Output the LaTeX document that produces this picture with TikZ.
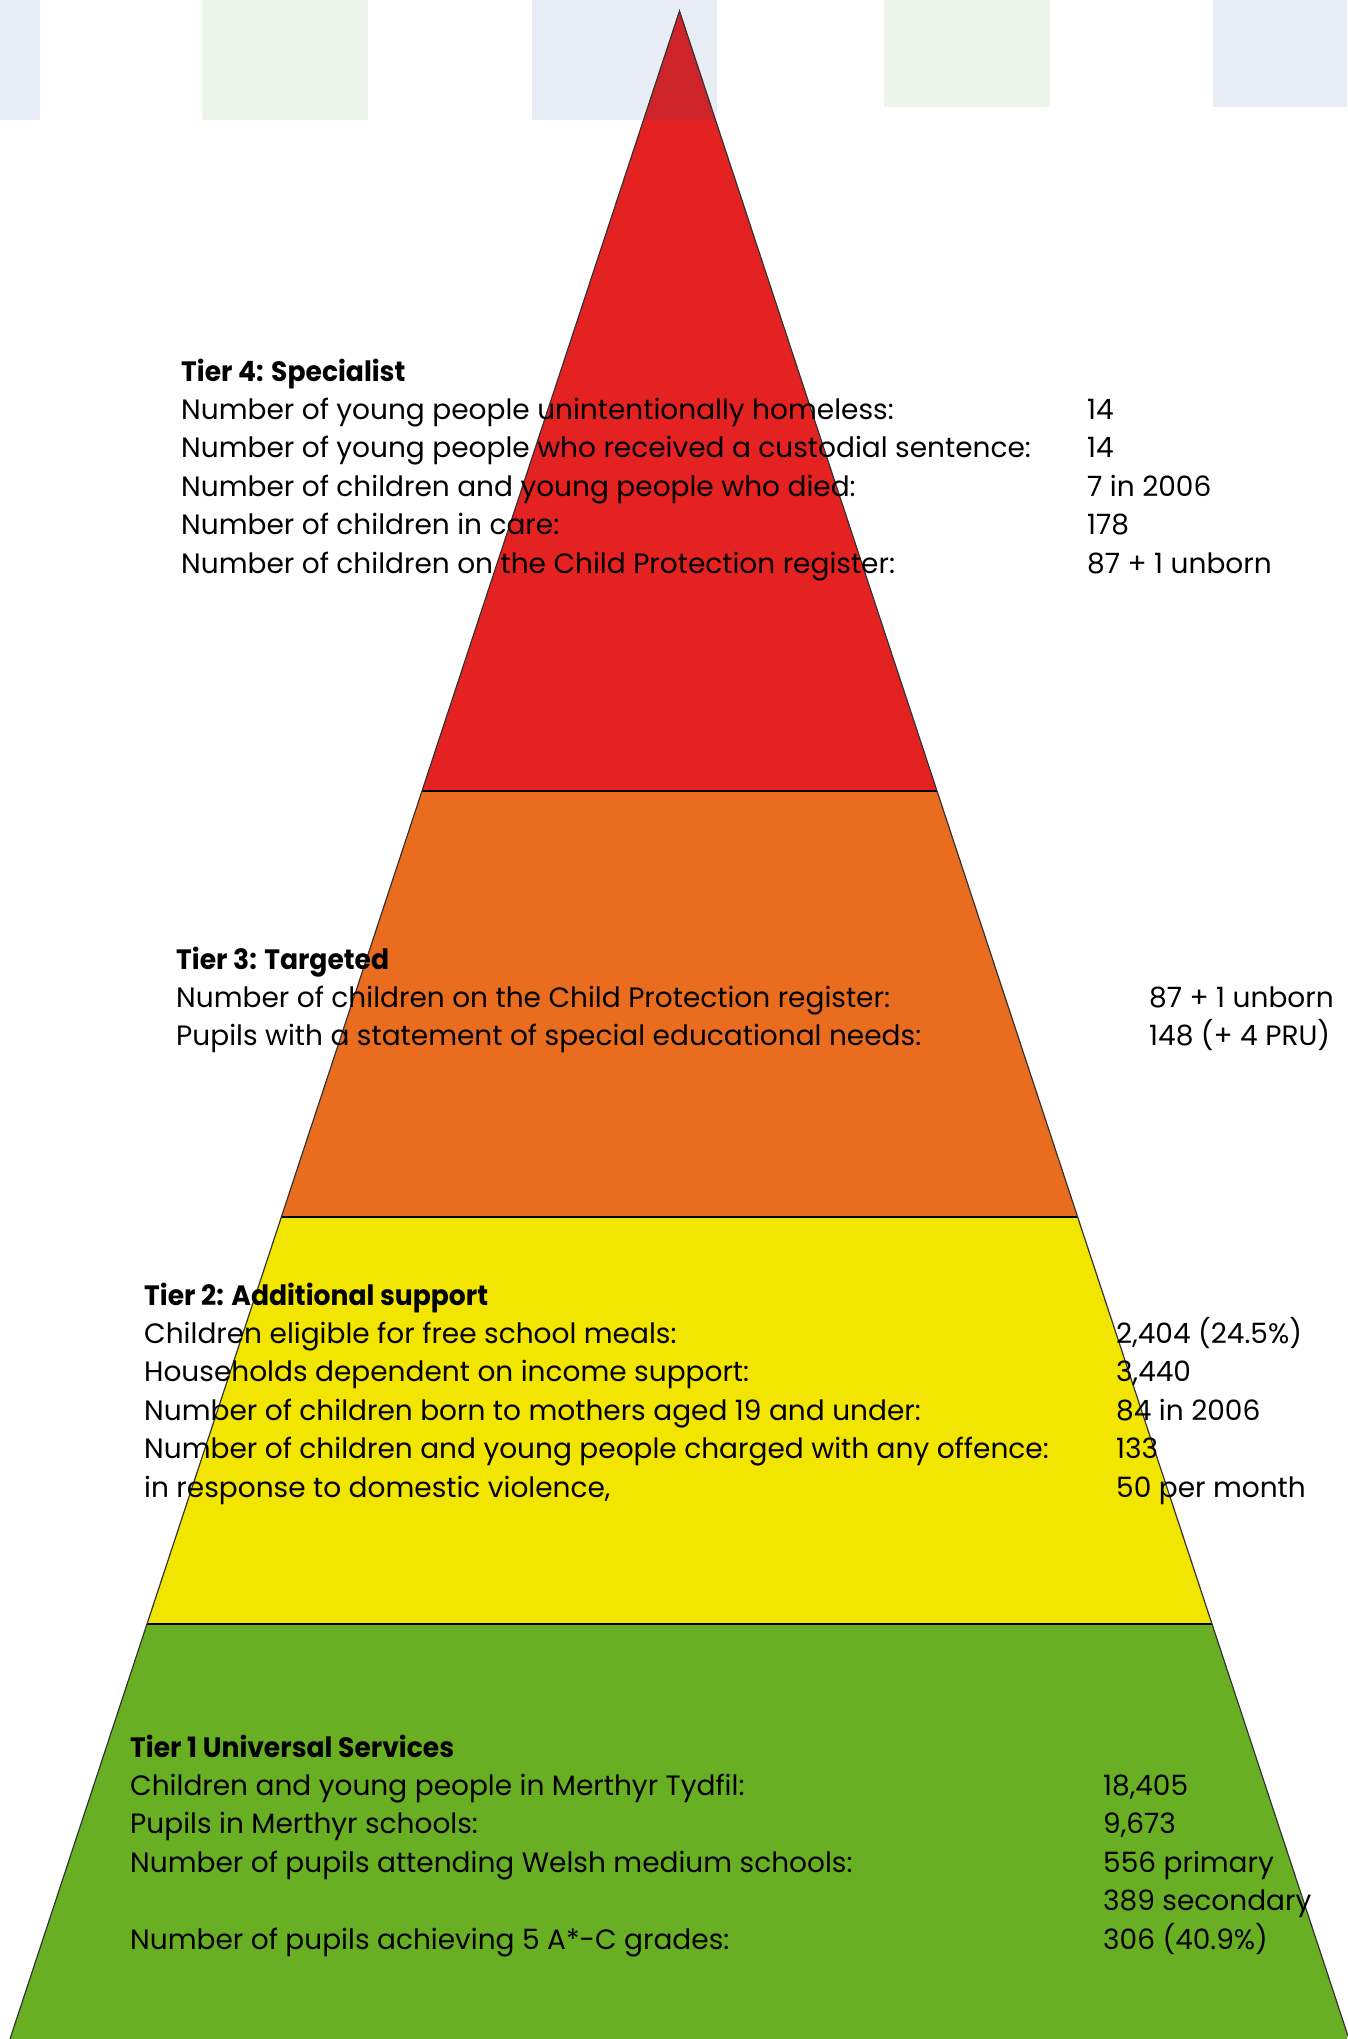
\documentclass[tikz,border=0pt]{standalone}
\usepackage{fontspec}
\setmainfont{Poppins}[BoldFeatures={FakeStretch=0.95}]

\definecolor{tierred}{HTML}{E32221}
\definecolor{tierdark}{HTML}{CC2429}
\definecolor{tierorange}{HTML}{E96C1F}
\definecolor{tieryellow}{HTML}{F2E500}
\definecolor{tiergreen}{HTML}{69AF24}
\definecolor{tileblue}{HTML}{E8EDF5}
\definecolor{tilegreen}{HTML}{EDF5EA}

\begin{document}
\begin{tikzpicture}[x=1pt, y=-1pt,
    tier/.style = {anchor=base west, inner sep=0pt, font=\fontsize{28}{38.4}\selectfont},
    band/.style = {draw=black, line width=2.5pt}]
\useasboundingbox (0,0) rectangle (1347,2039);
% tiles along the top
\fill[tileblue] (0,0) rectangle (40,120);
\fill[tilegreen] (202,0) rectangle (368,120);
\fill[tileblue] (532,0) rectangle (717,120);
\fill[tilegreen] (884,0) rectangle (1050,107);
\fill[tileblue] (1213,0) rectangle (1347,107);
% pyramid
\coordinate (apex) at (679.5,11);
\coordinate (bl) at (10,2039);
\coordinate (br) at (1349,2039);
\begin{scope}
    \clip (apex) -- (bl) -- (br) -- cycle;
    \fill[tierred] (0,0) rectangle (1347,791);
    \fill[tierdark] (532,0) rectangle (717,120);
    \fill[tierorange] (0,791) rectangle (1347,1217);
    \fill[tieryellow] (0,1217) rectangle (1347,1624);
    \fill[tiergreen] (0,1624) rectangle (1347,2045);
    \draw[band] (0,791) -- (1347,791);
    \draw[band] (0,1217) -- (1347,1217);
    \draw[band] (0,1624) -- (1347,1624);
\end{scope}
\draw[black!80, line width=1.2pt] (bl) -- (apex) -- (br);

% tier 4
\node[tier] (t4lab) at (181,381) {\begin{tabular}[t]{@{}l@{}}
    \textbf{Tier 4: Specialist}\\
    Number of young people unintentionally homeless:\\
    Number of young people who received a custodial sentence:\\
    Number of children and young people who died:\\
    Number of children in care:\\
    Number of children on the Child Protection register:
    \end{tabular}};
\node[tier] (t4val) at (1087,381) {\begin{tabular}[t]{@{}l@{}}
    \mbox{}\\ 14\\ 14\\ 7 in 2006\\ 178\\ 87 + 1 unborn
    \end{tabular}};

% tier 3
\node[tier] (t3lab) at (176,969) {\begin{tabular}[t]{@{}l@{}}
    \textbf{Tier 3: Targeted}\\
    Number of children on the Child Protection register:\\
    Pupils with a statement of special educational needs:
    \end{tabular}};
\node[tier] (t3val) at (1149,969) {\begin{tabular}[t]{@{}l@{}}
    \mbox{}\\ 87 + 1 unborn\\ 148 (+ 4 PRU)
    \end{tabular}};

% tier 2
\node[tier] (t2lab) at (144,1305) {\begin{tabular}[t]{@{}l@{}}
    \textbf{Tier 2: Additional support}\\
    Children eligible for free school meals:\\
    Households dependent on income support:\\
    Number of children born to mothers aged 19 and under:\\
    Number of children and young people charged with any offence:\\
    in response to domestic violence,
    \end{tabular}};
\node[tier] (t2val) at (1116,1305) {\begin{tabular}[t]{@{}l@{}}
    \mbox{}\\ 2,404 (24.5\%)\\ 3,440\\ 84 in 2006\\ 133\\ 50 per month
    \end{tabular}};

% tier 1
\node[tier] (t1lab) at (130,1757) {\begin{tabular}[t]{@{}l@{}}
    \textbf{Tier 1 Universal Services}\\
    Children and young people in Merthyr Tydfil:\\
    Pupils in Merthyr schools:\\
    Number of pupils attending Welsh medium schools:\\
    \mbox{}\\
    Number of pupils achieving 5 A*-C grades:
    \end{tabular}};
\node[tier] (t1val) at (1103,1757) {\begin{tabular}[t]{@{}l@{}}
    \mbox{}\\ 18,405\\ 9,673\\ 556 primary\\ 389 secondary\\ 306 (40.9\%)
    \end{tabular}};
\end{tikzpicture}
\end{document}
